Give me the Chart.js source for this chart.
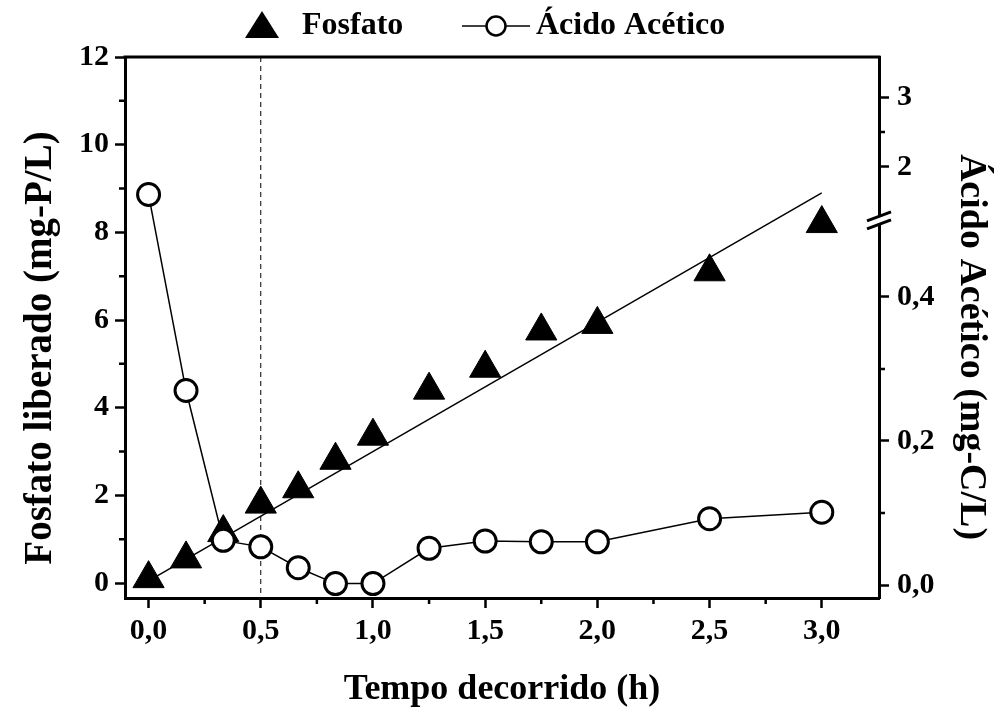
<!DOCTYPE html>
<html>
<head>
<meta charset="utf-8">
<script src="https://cdn.jsdelivr.net/npm/chart.js@4.4.1/dist/chart.umd.min.js"></script>
<style>
  html, body { margin: 0; padding: 0; background: #fff; }
  #wrap { width: 1000px; height: 712px; }
</style>
</head>
<body>
<div id="wrap"><canvas id="myChart" width="1000" height="712"></canvas></div>
<script>
// dados
const tempo = [0, 0.167, 0.333, 0.5, 0.667, 0.833, 1.0, 1.25, 1.5, 1.75, 2.0, 2.5, 3.0]
const fosfato = [0.1, 0.55, 1.15, 1.8, 2.15, 2.8, 3.35, 4.4, 4.9, 5.75, 5.9, 7.1, 8.2]
const acidoAcetico = [1.6, 0.27, 0.062, 0.053, 0.024, 0.002, 0.002, 0.051, 0.061, 0.06, 0.06, 0.092, 0.101]

// reta ajustada ao fosfato
const ajusteX = [0, 3.0]
const ajusteY = [0.05, 8.9]

const linhaTracejadaX = 0.5

const xTicks = [0, 0.5, 1, 1.5, 2, 2.5, 3]
const xMinor = [0.25, 0.75, 1.25, 1.75, 2.25, 2.75]
const yTicks = [0, 2, 4, 6, 8, 10, 12]
const yMinor = [1, 3, 5, 7, 9, 11]
const y2Ticks = [0, 0.2, 0.4, 2, 3]
const y2Labels = ['0,0', '0,2', '0,4', '2', '3']
const y2Minor = [0.1, 0.3, 2.5]

// eixo direito quebrado: parte de baixo 0 - 0,5 e parte de cima com outra escala
const topoBaixo = 0.5
const escalaCima = 0.09625
const toEixo = (v) => v <= topoBaixo ? v : 0.5806 + (v - 2) * escalaCima
const quebraEixo = 0.507

const serif = "'Liberation Serif', 'Times New Roman', serif"
const tickFont = { family: serif, size: 30, weight: 'bold' }

const extras = {
  id: 'extras',
  beforeDatasetsDraw(chart) {
    const { ctx, chartArea, scales } = chart
    const x = scales.x.getPixelForValue(linhaTracejadaX)
    ctx.save()
    ctx.strokeStyle = '#000'
    ctx.lineWidth = 1
    ctx.setLineDash([5, 4])
    ctx.beginPath()
    ctx.moveTo(x, chartArea.top)
    ctx.lineTo(x, chartArea.bottom)
    ctx.stroke()
    ctx.restore()
  },
  afterDraw(chart) {
    const { ctx, chartArea, scales } = chart
    const { left, right, top, bottom } = chartArea
    ctx.save()
    ctx.strokeStyle = '#000'
    ctx.fillStyle = '#000'

    // moldura de cima
    ctx.lineWidth = 3
    ctx.beginPath()
    ctx.moveTo(left - 1.5, top)
    ctx.lineTo(right + 1.5, top)
    ctx.stroke()

    // ticks menores
    ctx.lineWidth = 2.5
    ctx.beginPath()
    xMinor.forEach((v) => {
      const px = scales.x.getPixelForValue(v)
      ctx.moveTo(px, bottom)
      ctx.lineTo(px, bottom + 6)
    })
    yMinor.forEach((v) => {
      const py = scales.y.getPixelForValue(v)
      ctx.moveTo(left, py)
      ctx.lineTo(left - 6, py)
    })
    y2Minor.forEach((v) => {
      const py = scales.y1.getPixelForValue(toEixo(v))
      ctx.moveTo(right, py)
      ctx.lineTo(right + 6, py)
    })
    ctx.stroke()

    // quebra do eixo direito
    const yq = scales.y1.getPixelForValue(quebraEixo)
    ctx.fillStyle = '#fff'
    ctx.fillRect(right - 3, yq - 4, 6, 8)
    ctx.lineWidth = 3
    ctx.beginPath()
    ctx.moveTo(right - 12, yq + 1)
    ctx.lineTo(right + 12, yq - 8)
    ctx.moveTo(right - 12, yq + 9)
    ctx.lineTo(right + 12, yq)
    ctx.stroke()

    // legenda
    ctx.fillStyle = '#000'
    const ly = 26
    ctx.beginPath()
    ctx.moveTo(262, ly - 15)
    ctx.lineTo(279, ly + 12)
    ctx.lineTo(245, ly + 12)
    ctx.closePath()
    ctx.fill()
    ctx.font = `bold 32px ${serif}`
    ctx.textBaseline = 'middle'
    ctx.textAlign = 'left'
    ctx.fillText('Fosfato', 302, ly)
    ctx.lineWidth = 1.5
    ctx.beginPath()
    ctx.moveTo(462, ly)
    ctx.lineTo(530, ly)
    ctx.stroke()
    ctx.fillStyle = '#fff'
    ctx.lineWidth = 2.5
    ctx.beginPath()
    ctx.arc(496, ly, 9.5, 0, Math.PI * 2)
    ctx.fill()
    ctx.stroke()
    ctx.fillStyle = '#000'
    ctx.fillText('Ácido Acético', 536, ly)

    // título do eixo esquerdo
    ctx.save()
    ctx.translate(41, 348)
    ctx.rotate(-Math.PI / 2)
    ctx.textAlign = 'center'
    ctx.font = `bold 39px ${serif}`
    ctx.fillText('Fosfato liberado (mg-P/L)', 0, 0)
    ctx.restore()

    // título do eixo direito
    ctx.translate(971, 347)
    ctx.rotate(Math.PI / 2)
    ctx.textAlign = 'center'
    ctx.font = `bold 38px ${serif}`
    ctx.fillText('Ácido Acético (mg-C/L)', 0, 0)
    ctx.restore()
  }
}

const ctx = document.getElementById('myChart').getContext('2d')
new Chart(ctx, {
  type: 'line',
  data: {
    datasets: [
      {
        label: 'Ácido Acético',
        data: tempo.map((t, i) => ({ x: t, y: toEixo(acidoAcetico[i]) })),
        yAxisID: 'y1',
        borderColor: '#000',
        borderWidth: 1.5,
        pointStyle: 'circle',
        pointRadius: 11,
        pointBorderWidth: 3,
        pointBackgroundColor: '#fff',
        pointBorderColor: '#000',
        order: 0
      },
      {
        label: 'Fosfato',
        data: tempo.map((t, i) => ({ x: t, y: fosfato[i] })),
        yAxisID: 'y',
        showLine: false,
        pointStyle: 'triangle',
        pointRadius: 18,
        pointBorderWidth: 1,
        pointBackgroundColor: '#000',
        pointBorderColor: '#000',
        order: 1
      },
      {
        label: 'ajuste',
        data: ajusteX.map((t, i) => ({ x: t, y: ajusteY[i] })),
        yAxisID: 'y',
        borderColor: '#000',
        borderWidth: 1.5,
        pointRadius: 0,
        order: 2
      }
    ]
  },
  options: {
    responsive: false,
    animation: false,
    devicePixelRatio: 1,
    layout: { padding: { top: 57, left: 0, right: 0, bottom: 0 } },
    plugins: { legend: { display: false }, tooltip: { enabled: false } },
    scales: {
      x: {
        type: 'linear',
        min: -0.105,
        max: 3.255,
        afterBuildTicks: (s) => { s.ticks = xTicks.map((v) => ({ value: v })) },
        afterFit: (s) => { s.height = 114 },
        ticks: {
          color: '#000',
          font: tickFont,
          padding: 5,
          maxRotation: 0,
          callback: (v) => v.toFixed(1).replace('.', ',')
        },
        grid: { drawOnChartArea: false, tickLength: 10, tickWidth: 2.5, tickColor: '#000' },
        border: { color: '#000', width: 3 },
        title: {
          display: true,
          text: 'Tempo decorrido (h)',
          color: '#000',
          font: { family: serif, size: 36, weight: 'bold' },
          padding: { top: 0, bottom: 1 }
        }
      },
      y: {
        position: 'left',
        min: -0.342,
        max: 12,
        afterBuildTicks: (s) => { s.ticks = yTicks.map((v) => ({ value: v })) },
        afterFit: (s) => { s.width = 125 },
        ticks: { color: '#000', font: tickFont, padding: 6 },
        grid: { drawOnChartArea: false, tickLength: 10, tickWidth: 2.5, tickColor: '#000' },
        border: { color: '#000', width: 3 }
      },
      y1: {
        position: 'right',
        min: -0.018,
        max: 0.733,
        afterBuildTicks: (s) => { s.ticks = y2Ticks.map((v) => ({ value: toEixo(v) })) },
        afterFit: (s) => { s.width = 121 },
        ticks: {
          color: '#000',
          font: tickFont,
          padding: 8,
          callback: (v, i) => y2Labels[i]
        },
        grid: { drawOnChartArea: false, tickLength: 10, tickWidth: 2.5, tickColor: '#000' },
        border: { color: '#000', width: 3 }
      }
    }
  },
  plugins: [extras]
})
</script>
</body>
</html>
